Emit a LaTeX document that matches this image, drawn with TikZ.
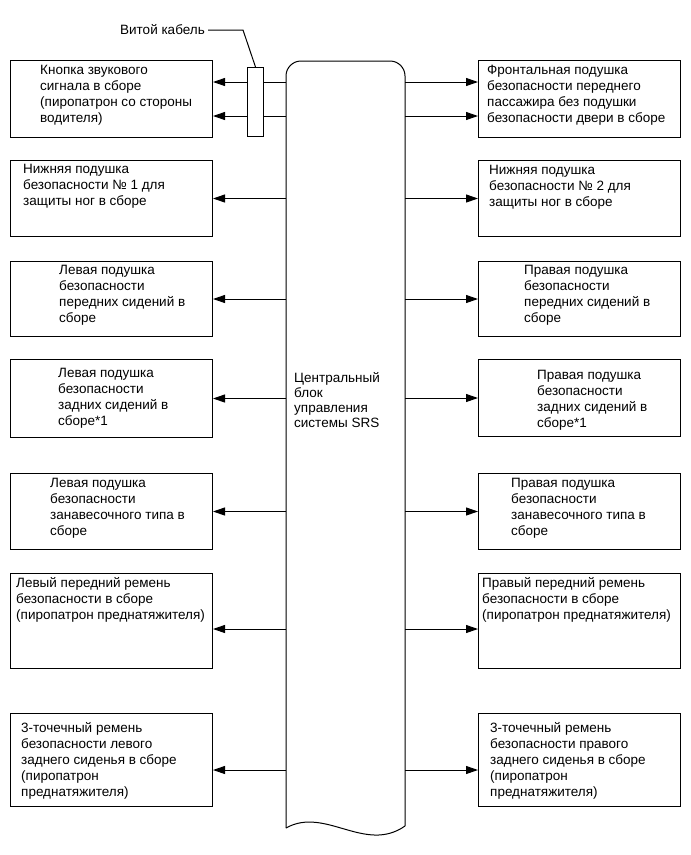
\documentclass[tikz,border=0pt]{standalone}
\usepackage{fontspec}
\setmainfont{Liberation Sans}
\usetikzlibrary{arrows.meta}

\tikzset{
  blk/.style={draw, line width=1pt, minimum width=202pt, inner sep=0pt, anchor=north west},
  txt/.style={align=left, inner sep=0pt, anchor=north west, font=\fontsize{13.5}{16}\selectfont},
  arr/.style={line width=1pt, -{Triangle[length=12pt,width=8pt]}}
}

\begin{document}
\begin{tikzpicture}[x=1pt,y=-1pt]
\useasboundingbox (0,0) rectangle (691,855);

% central block
\draw[line width=1pt, rounded corners=15pt] (286,828) -- (286,61) -- (405,61) -- (405,826);
\draw[line width=1pt] (405,826) .. controls (365,854) and (325,806) .. (286,828);
\coordinate (cl) at (286,0);
\coordinate (cr) at (405,0);
\node[txt, font=\fontsize{13.5}{15}\selectfont] (srs) at (294,372) {Центральный\\блок\\управления\\системы SRS};

% left column
\node[blk, minimum height=77pt] (l1) at (10,60) {};
\node[txt] (l1t) at ([shift={(30,5)}]l1.north west) {Кнопка звукового\\сигнала в сборе\\(пиропатрон со стороны\\водителя)};
\node[blk, minimum height=76pt] (l2) at (10,160) {};
\node[txt] (l2t) at ([shift={(13,4)}]l2.north west) {Нижняя подушка\\безопасности № 1 для\\защиты ног в сборе};
\node[blk, minimum height=75pt] (l3) at (10,261) {};
\node[txt] (l3t) at ([shift={(49,4)}]l3.north west) {Левая подушка\\безопасности\\передних сидений в\\сборе};
\node[blk, minimum height=78pt] (l4) at (10,359) {};
\node[txt] (l4t) at ([shift={(48,9)}]l4.north west) {Левая подушка\\безопасности\\задних сидений в\\сборе*1};
\node[blk, minimum height=76pt] (l5) at (10,473) {};
\node[txt] (l5t) at ([shift={(40,5)}]l5.north west) {Левая подушка\\безопасности\\занавесочного типа в\\сборе};
\node[blk, minimum height=95pt] (l6) at (10,573) {};
\node[txt] (l6t) at ([shift={(6,4)}]l6.north west) {Левый передний ремень\\безопасности в сборе\\(пиропатрон преднатяжителя)};
\node[blk, minimum height=93pt] (l7) at (10,713) {};
\node[txt] (l7t) at ([shift={(11,9)}]l7.north west) {3-точечный ремень\\безопасности левого\\заднего сиденья в сборе\\(пиропатрон\\преднатяжителя)};

% right column
\node[blk, minimum height=77pt] (r1) at (478,60) {};
\node[txt] (r1t) at ([shift={(9,5)}]r1.north west) {Фронтальная подушка\\безопасности переднего\\пассажира без подушки\\безопасности двери в сборе};
\node[blk, minimum height=76pt] (r2) at (478,160) {};
\node[txt] (r2t) at ([shift={(11,5)}]r2.north west) {Нижняя подушка\\безопасности № 2 для\\защиты ног в сборе};
\node[blk, minimum height=75pt] (r3) at (478,261) {};
\node[txt] (r3t) at ([shift={(46,4)}]r3.north west) {Правая подушка\\безопасности\\передних сидений в\\сборе};
\node[blk, minimum height=77pt] (r4) at (478,359) {};
\node[txt] (r4t) at ([shift={(59,11)}]r4.north west) {Правая подушка\\безопасности\\задних сидений в\\сборе*1};
\node[blk, minimum height=76pt] (r5) at (478,473) {};
\node[txt] (r5t) at ([shift={(33,5)}]r5.north west) {Правая подушка\\безопасности\\занавесочного типа в\\сборе};
\node[blk, minimum height=95pt] (r6) at (478,573) {};
\node[txt] (r6t) at ([shift={(4,4)}]r6.north west) {Правый передний ремень\\безопасности в сборе\\(пиропатрон преднатяжителя)};
\node[blk, minimum height=93pt] (r7) at (478,713) {};
\node[txt] (r7t) at ([shift={(12,9)}]r7.north west) {3-точечный ремень\\безопасности правого\\заднего сиденья в сборе\\(пиропатрон\\преднатяжителя)};

% connectors
\coordinate (w1) at (0,82);
\coordinate (w2) at (0,116);
\coordinate (w6) at (0,629);
\coordinate (w7) at (0,770);
\draw[arr] (cl |- w1) -- (l1.east |- w1);
\draw[arr] (cl |- w2) -- (l1.east |- w2);
\draw[arr] (cr |- w1) -- (r1.west |- w1);
\draw[arr] (cr |- w2) -- (r1.west |- w2);
\foreach \n in {2,3,4,5} {
  \draw[arr] (cl |- l\n.east) -- (l\n.east);
  \draw[arr] (cr |- r\n.west) -- (r\n.west);
}
\draw[arr] (cl |- w6) -- (l6.east |- w6);
\draw[arr] (cr |- w6) -- (r6.west |- w6);
\draw[arr] (cl |- w7) -- (l7.east |- w7);
\draw[arr] (cr |- w7) -- (r7.west |- w7);

% twisted cable
\node[draw, line width=1pt, fill=white, minimum width=16pt, minimum height=69pt, inner sep=0pt, anchor=north west] (cable) at (247,67) {};
\node[font=\fontsize{13.5}{16}\selectfont, anchor=east, inner sep=0pt] (cablelbl) at (205,30) {Витой кабель};
\draw[line width=1pt] ([xshift=3pt]cablelbl.east) -- (243,30) -- (cable.north);
\end{tikzpicture}
\end{document}
